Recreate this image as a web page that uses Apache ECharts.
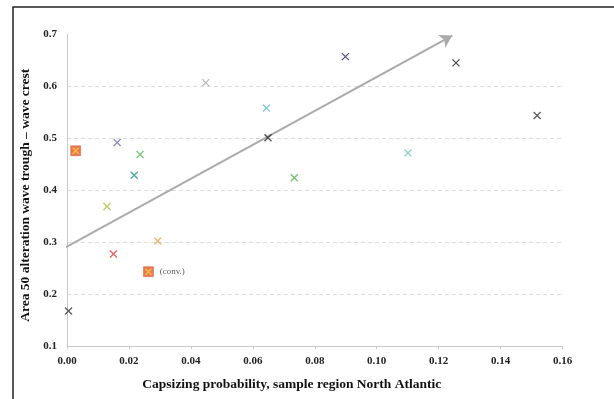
<!DOCTYPE html>
<html>
<head>
<meta charset="utf-8">
<script src="https://cdn.jsdelivr.net/npm/echarts@6/dist/echarts.min.js"></script>
<style>html,body{margin:0;padding:0;background:#fff}#c{width:614px;height:399px}</style>
</head>
<body>
<div id="c"></div>
<script>
// Capsizing probability (x) and Area 50 alteration (y) for cross markers
const crossX = [0.0448, 0.0899, 0.1256, 0.0644, 0.1518, 0.0162, 0.0649, 0.0236, 0.0217, 0.0734, 0.1101, 0.0129, 0.0293, 0.0150, 0.0005];
const crossY = [0.607, 0.657, 0.645, 0.558, 0.544, 0.492, 0.501, 0.469, 0.429, 0.424, 0.472, 0.369, 0.3025, 0.2775, 0.168];
const crossColors = ['#a8a8a8', '#2e2a70', '#222222', '#5ab4d8', '#333333', '#7474aa', '#222222', '#5cb85c', '#1f9485', '#4caf50', '#6cc0b2', '#a9c23a', '#e8a448', '#e03a32', '#333333'];
// Highlighted (square) markers
const squareX = [0.0028, 0.0263];
const squareY = [0.476, 0.2435];
const squareLabels = ['', '(conv.)'];
// Trend arrow endpoints
const arrowX = [-0.0015, 0.1244];
const arrowY = [0.287, 0.6975];
// Axis ticks
const xTicks = [0, 0.02, 0.04, 0.06, 0.08, 0.10, 0.12, 0.14, 0.16];
const yTicks = [0.1, 0.2, 0.3, 0.4, 0.5, 0.6, 0.7];

const crossPath = 'path://M0,0L10,10M10,0L0,10';
const serif = '"Liberation Serif", "DejaVu Serif", serif';

const crossSeries = crossX.map((x, i) => ({
  type: 'scatter',
  symbol: crossPath,
  symbolSize: 7,
  data: [[x, crossY[i]]],
  itemStyle: { color: 'rgba(0,0,0,0)', borderColor: crossColors[i], borderWidth: 1.3 },
  z: 4
}));

const chart = echarts.init(document.getElementById('c'));
chart.setOption({
  animation: false,
  backgroundColor: '#fff',
  graphic: [{
    type: 'rect', shape: { x: 13, y: 7, width: 700, height: 500 },
    style: { fill: 'none', stroke: '#222', lineWidth: 1.5 }, silent: true
  }],
  grid: { left: 67, right: 51.5, top: 34.3, bottom: 52.7 },
  xAxis: {
    type: 'value', min: 0, max: 0.16, interval: 0.02,
    name: 'Capsizing probability, sample region North Atlantic',
    nameLocation: 'middle', nameGap: 31,
    nameTextStyle: { fontFamily: serif, fontWeight: 'bold', fontSize: 13.5, color: '#111', padding: [0, 46, 0, 0] },
    axisLine: { lineStyle: { color: '#c8c8c8', width: 1 } },
    axisTick: { show: true, length: 3, lineStyle: { color: '#c8c8c8' } },
    axisLabel: { fontFamily: serif, fontWeight: 'bold', fontSize: 11, color: '#222', margin: 9,
      formatter: v => v.toFixed(2) },
    splitLine: { show: false }
  },
  yAxis: {
    type: 'value', min: 0.1, max: 0.7, interval: 0.1,
    name: 'Area 50 alteration wave trough \u2013 wave crest',
    nameLocation: 'middle', nameGap: 29, nameRotate: 90,
    nameTextStyle: { fontFamily: serif, fontWeight: 'bold', fontSize: 13.5, color: '#111', padding: [0, 10, 0, 0] },
    axisLine: { show: true, lineStyle: { color: '#c8c8c8', width: 1 } },
    axisTick: { show: false },
    axisLabel: { fontFamily: serif, fontWeight: 'bold', fontSize: 11, color: '#222', margin: 10,
      formatter: v => v.toFixed(1) },
    splitLine: { show: true, lineStyle: { type: [4, 3], width: 1,
      color: ['rgba(0,0,0,0)', '#dcdcdc', '#dcdcdc', '#dcdcdc', '#dcdcdc', '#dcdcdc', 'rgba(0,0,0,0)'] } }
  },
  series: [
    {
      type: 'line', silent: true, clip: false,
      data: [
        { value: [arrowX[0], arrowY[0]], symbol: 'none' },
        { value: [arrowX[1], arrowY[1]], symbol: 'arrow', symbolSize: [11, 12], symbolRotate: -61 }
      ],
      showSymbol: true, showAllSymbol: true,
      lineStyle: { color: '#aaaaaa', width: 2 },
      itemStyle: { color: '#aaaaaa', borderWidth: 0 },
      z: 2
    },
    {
      type: 'scatter', symbol: 'rect', symbolSize: 10,
      data: squareX.map((x, i) => [x, squareY[i]]),
      itemStyle: { color: '#e4572b', borderColor: '#c84a20', borderWidth: 0.5 },
      label: { show: true, position: 'right', distance: 6, fontFamily: serif, fontSize: 9, color: '#333',
        formatter: p => squareLabels[p.dataIndex] },
      z: 5
    },
    {
      type: 'scatter', symbol: crossPath, symbolSize: 6,
      data: squareX.map((x, i) => [x, squareY[i]]),
      itemStyle: { color: 'rgba(0,0,0,0)', borderColor: '#f7d23a', borderWidth: 1.4 },
      z: 6
    }
  ].concat(crossSeries)
});
</script>
</body>
</html>
